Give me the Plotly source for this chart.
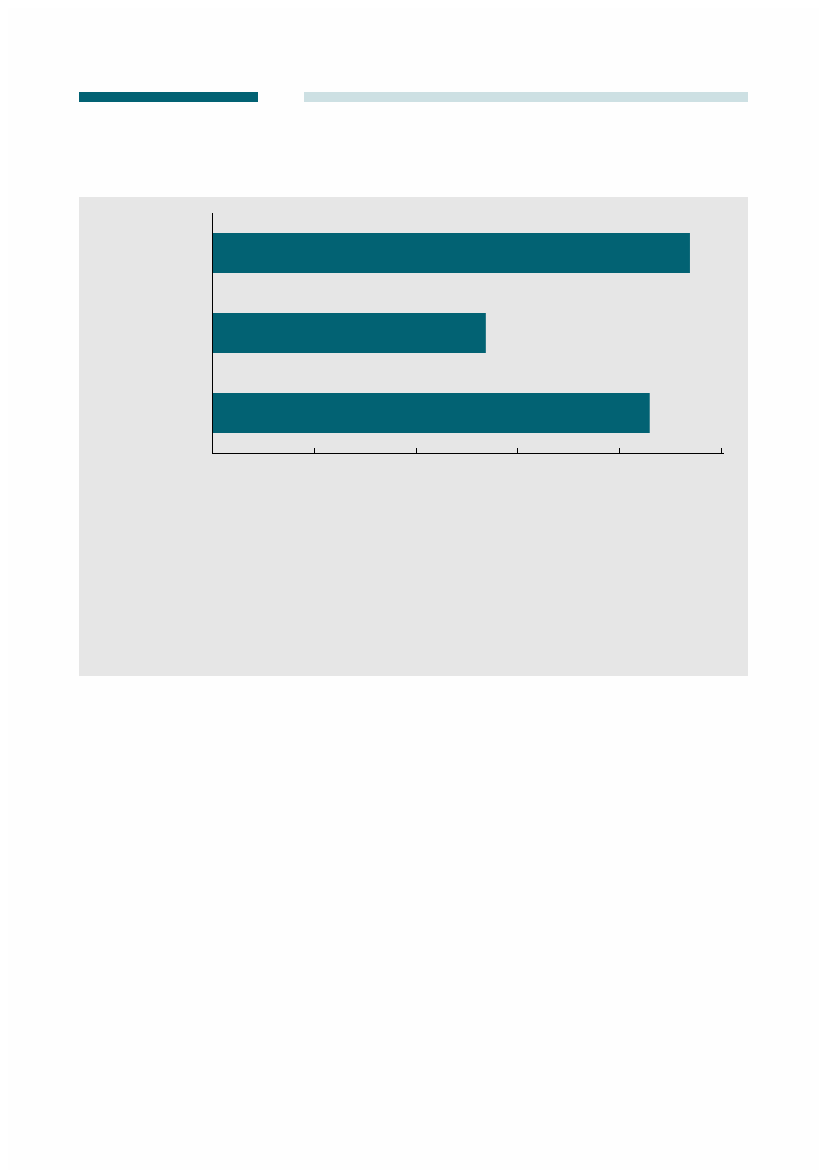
import plotly.graph_objects as go

# values (axis 0-100, no labels in the original)
categories = ["Category 1", "Category 2", "Category 3"]
values = [93.8, 53.7, 85.9]
x_ticks = [0, 20, 40, 60, 80, 100]
x_max = 100.4  # a little past the last tick so plotly keeps it

W, H = 827, 1170
OFF = 8  # page body margin shifts the figure by this much
TEAL = "#026273"
LIGHT = "#cde0e3"
PANEL = "#e6e6e6"


def px(x):
    return (x - OFF) / W


def py(y):
    return 1 - (y - OFF) / H


fig = go.Figure(
    go.Bar(
        y=list(range(len(categories))),
        x=values,
        orientation="h",
        width=0.5,
        marker=dict(color=TEAL, line=dict(width=0)),
        hovertext=categories,
        hoverinfo="text+x",
    )
)

shapes = [
    # grey panel behind the chart
    dict(type="rect", xref="paper", yref="paper", layer="below",
         x0=px(79), x1=px(748), y0=py(676), y1=py(197),
         fillcolor=PANEL, line=dict(width=0)),
    # header bars
    dict(type="rect", xref="paper", yref="paper",
         x0=px(79), x1=px(258), y0=py(102), y1=py(92),
         fillcolor=TEAL, line=dict(width=0)),
    dict(type="rect", xref="paper", yref="paper",
         x0=px(304), x1=px(748), y0=py(102), y1=py(92),
         fillcolor=LIGHT, line=dict(width=0)),
]

x_left, x_right = 212.5, 721.5
scale = (x_right - x_left) / 100

fig.update_layout(
    width=W,
    height=H,
    margin=dict(l=0, r=0, t=0, b=0),
    paper_bgcolor="#fefefe",
    plot_bgcolor="rgba(0,0,0,0)",
    showlegend=False,
    shapes=shapes,
    xaxis=dict(
        domain=[px(x_left), px(x_left + scale * x_max)],
        range=[0, x_max],
        tickvals=x_ticks,
        showticklabels=False,
        ticks="inside",
        ticklen=5,
        tickwidth=1,
        tickcolor="black",
        showline=True,
        linecolor="black",
        linewidth=1,
        showgrid=False,
        zeroline=False,
    ),
    yaxis=dict(
        domain=[py(453), py(213)],
        range=[len(categories) - 0.5, -0.5],
        showticklabels=False,
        ticks="",
        showline=True,
        linecolor="black",
        linewidth=1,
        showgrid=False,
        zeroline=False,
    ),
)

fig.write_html("out.html")
